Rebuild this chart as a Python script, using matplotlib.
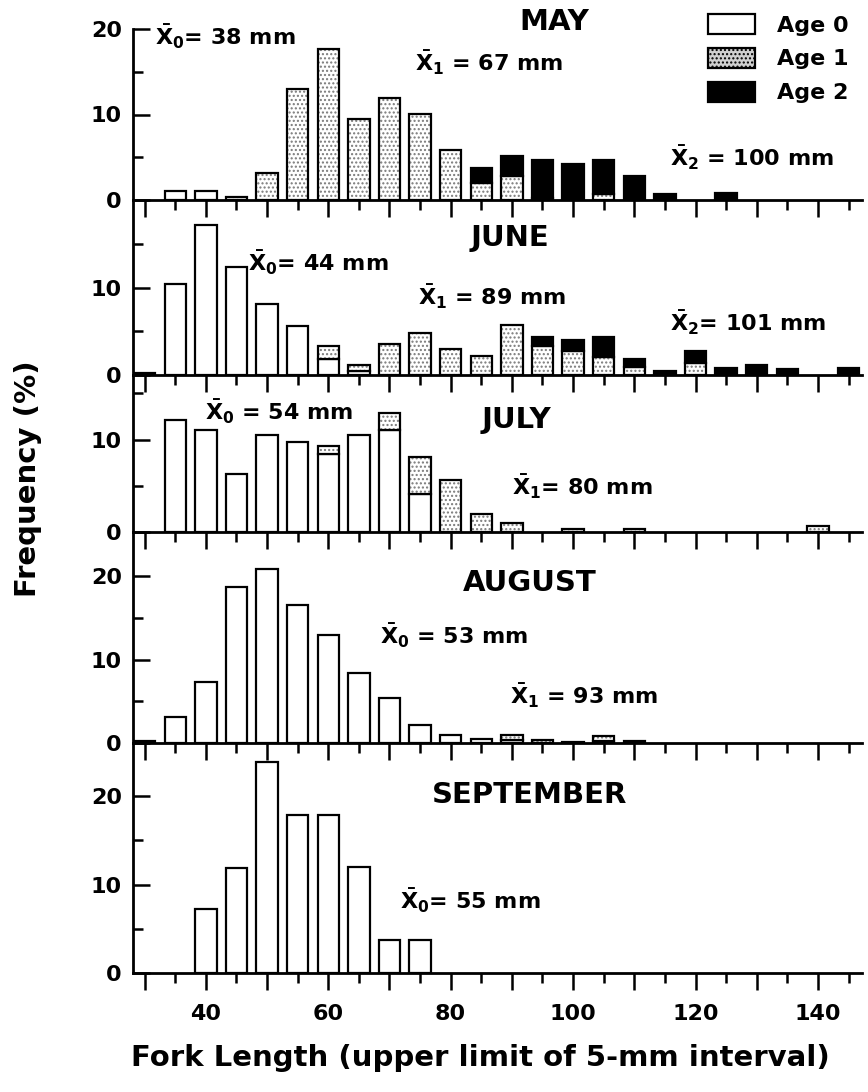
import numpy as np
import matplotlib
matplotlib.use("Agg")
import matplotlib.pyplot as plt
from matplotlib.patches import Patch
from matplotlib.ticker import FixedLocator

plt.rcParams['font.family'] = ['DejaVu Sans']
plt.rcParams['font.weight'] = 'bold'
plt.rcParams['mathtext.fontset'] = 'custom'
plt.rcParams['mathtext.rm'] = 'DejaVu Sans:bold'
plt.rcParams['mathtext.it'] = 'DejaVu Sans:bold'
plt.rcParams['mathtext.bf'] = 'DejaVu Sans:bold'

# upper limit of each 5-mm fork length interval
bins = [30, 35, 40, 45, 50, 55, 60, 65, 70, 75, 80, 85,
        90, 95, 100, 105, 110, 115, 120, 125, 130, 135, 140, 145]

# frequency (%) per age class
may_age0 = [0, 1.0, 1.0, 0, 0, 0, 0, 0, 0, 0, 0, 0,
            0, 0, 0, 0, 0, 0, 0, 0, 0, 0, 0, 0]
may_age1 = [0, 0, 0, 0.4, 3.2, 13.0, 17.7, 9.5, 11.9, 10.1, 5.9, 2.0,
            2.8, 0.2, 0, 0.7, 0, 0, 0, 0, 0, 0, 0, 0]
may_age2 = [0, 0, 0, 0, 0, 0, 0, 0, 0, 0, 0, 1.7,
            2.3, 4.5, 4.2, 4.0, 2.8, 0.7, 0, 0.8, 0, 0, 0, 0]

jun_age0 = [0.2, 10.4, 17.2, 12.3, 8.1, 5.6, 1.8, 0.5, 0, 0, 0, 0,
            0, 0, 0, 0, 0, 0, 0, 0, 0, 0, 0, 0]
jun_age1 = [0, 0, 0, 0, 0, 0, 1.5, 0.6, 3.5, 4.8, 3.0, 2.2,
            5.7, 3.3, 2.7, 2.1, 0.95, 0, 1.4, 0, 0, 0, 0, 0]
jun_age2 = [0, 0, 0, 0, 0, 0, 0, 0, 0, 0, 0, 0,
            0, 1.1, 1.3, 2.3, 0.9, 0.5, 1.4, 0.8, 1.2, 0.7, 0, 0.8]

jul_age0 = [0, 12.1, 11.0, 6.3, 10.5, 9.7, 8.5, 10.5, 11.0, 4.1, 0, 0,
            0, 0, 0, 0, 0, 0, 0, 0, 0, 0, 0, 0]
jul_age1 = [0, 0, 0, 0, 0, 0, 0.8, 0, 1.9, 4.0, 5.6, 1.9,
            1.0, 0, 0.3, 0, 0.3, 0, 0, 0, 0, 0, 0.6, 0]
jul_age2 = [0] * 24

aug_age0 = [0.2, 3.1, 7.3, 18.7, 20.9, 16.6, 12.9, 8.4, 5.4, 2.2, 0.9, 0.5,
            0.4, 0, 0, 0.2, 0, 0, 0, 0, 0, 0, 0, 0]
aug_age1 = [0, 0, 0, 0, 0, 0, 0, 0, 0, 0, 0, 0,
            0.5, 0.3, 0.1, 0.6, 0.2, 0, 0, 0, 0, 0, 0, 0]
aug_age2 = [0] * 24

sep_age0 = [0, 0, 7.2, 11.9, 23.8, 17.9, 17.9, 12.0, 3.7, 3.7, 0, 0,
            0, 0, 0, 0, 0, 0, 0, 0, 0, 0, 0, 0]
sep_age1 = [0] * 24
sep_age2 = [0] * 24

months = ["MAY", "JUNE", "JULY", "AUGUST", "SEPTEMBER"]
data = [(may_age0, may_age1, may_age2), (jun_age0, jun_age1, jun_age2),
        (jul_age0, jul_age1, jul_age2), (aug_age0, aug_age1, aug_age2),
        (sep_age0, sep_age1, sep_age2)]

# mean lengths printed in each panel
means = [["= 38 mm", " = 67 mm", " = 100 mm"],
         ["= 44 mm", " = 89 mm", "= 101 mm"],
         [" = 54 mm", "= 80 mm"],
         [" = 53 mm", " = 93 mm"],
         ["= 55 mm"]]

# panel layout (pixels from top of the figure) and y limits
panel_px = [(29, 200), (200, 375), (375, 532), (532, 743), (743, 973)]
ylims = [20, 20, 17, 25.3, 26]
yticks = [[0, 10, 20], [0, 10], [0, 10], [0, 10, 20], [0, 10, 20]]

# label positions (data coords)
title_pos = [(97, 20.8), (89.7, 15.7), (90.8, 12.1), (92.9, 19.2), (92.9, 20.1)]
mean_pos = [[(31.7, 19.1), (74.2, 16.1), (115.8, 4.9)],
            [(46.9, 12.8), (74.6, 8.9), (115.8, 6.0)],
            [(39.8, 13.0), (90.0, 4.9)],
            [(68.4, 12.8), (89.7, 5.6)],
            [(71.7, 8.2)]]

W, H = 868, 1092
fig = plt.figure(figsize=(W / 100, H / 100), dpi=100)

left, right = 133 / W, 862 / W
bw = 3.5
lw = 1.6
x = np.array(bins)

def stipple(ax, xs, h, b):
    # light dotted fill, black outline drawn separately
    ax.bar(xs, h, bw, bottom=b, color='white', edgecolor='#7a7a7a',
           hatch='....', linewidth=0)
    ax.bar(xs, h, bw, bottom=b, fill=False, edgecolor='black', linewidth=lw)

axes = []
for i, (top_px, bot_px) in enumerate(panel_px):
    ax = fig.add_axes([left, 1 - bot_px / H, right - left, (bot_px - top_px) / H])
    axes.append(ax)
    a0, a1, a2 = [np.array(v, dtype=float) for v in data[i]]

    m0 = a0 > 0
    ax.bar(x[m0], a0[m0], bw, color='white', edgecolor='black', linewidth=lw)
    m1 = a1 > 0
    stipple(ax, x[m1], a1[m1], a0[m1])
    m2 = a2 > 0
    ax.bar(x[m2], a2[m2], bw, bottom=(a0 + a1)[m2], color='black',
           edgecolor='black', linewidth=lw)

    ax.set_xlim(28.1, 147.2)
    ax.set_ylim(0, ylims[i])
    for s in ['top', 'right']:
        ax.spines[s].set_visible(False)
    for s in ['left', 'bottom']:
        ax.spines[s].set_linewidth(2)
    ax.patch.set_alpha(0)

    ax.set_yticks(yticks[i])
    ax.yaxis.set_minor_locator(FixedLocator([5, 15]))
    ax.tick_params(axis='y', which='major', direction='in', length=12, width=1.8,
                   labelsize=16, pad=8)
    ax.tick_params(axis='y', which='minor', direction='in', length=7, width=1.8)

    ax.set_xticks(np.arange(30, 150, 10))
    ax.xaxis.set_minor_locator(FixedLocator(np.arange(35, 150, 10)))
    ax.tick_params(axis='x', which='major', direction='out', length=12, width=1.8,
                   labelsize=16, pad=10)
    ax.tick_params(axis='x', which='minor', direction='out', length=7, width=1.8)
    if i < 4:
        ax.set_xticklabels([])
    else:
        ax.set_xticklabels([str(t) if t % 20 == 0 else '' for t in range(30, 150, 10)])

    ax.text(title_pos[i][0], title_pos[i][1], months[i], ha='center', va='center',
            fontsize=21, fontweight='bold', clip_on=False)
    for k, txt in enumerate(means[i]):
        mx, my = mean_pos[i][k]
        ax.text(mx, my, r'$\bar{X}_%d$' % k + txt, ha='left', va='center',
                fontsize=16, fontweight='bold', clip_on=False)

handles = [Patch(facecolor='white', edgecolor='black', linewidth=lw, label='Age 0'),
           Patch(facecolor='#d0d0d0', edgecolor='black', hatch='....', linewidth=lw, label='Age 1'),
           Patch(facecolor='black', edgecolor='black', linewidth=lw, label='Age 2')]
fig.legend(handles=handles, loc='upper left', bbox_to_anchor=(697 / W, 1 - 3 / H),
           frameon=False, handlelength=2.1, handleheight=1.0,
           labelspacing=0.55, handletextpad=1.0, borderpad=0,
           prop={'weight': 'bold', 'size': 16})

fig.text(28 / W, 1 - 479 / H, "Frequency (%)", rotation=90, ha='center', va='center',
         fontsize=21, fontweight='bold')
fig.text(480 / W, 1 - 1058 / H, "Fork Length (upper limit of 5-mm interval)",
         ha='center', va='center', fontsize=21, fontweight='bold')

fig.savefig("out.png", dpi=100)
